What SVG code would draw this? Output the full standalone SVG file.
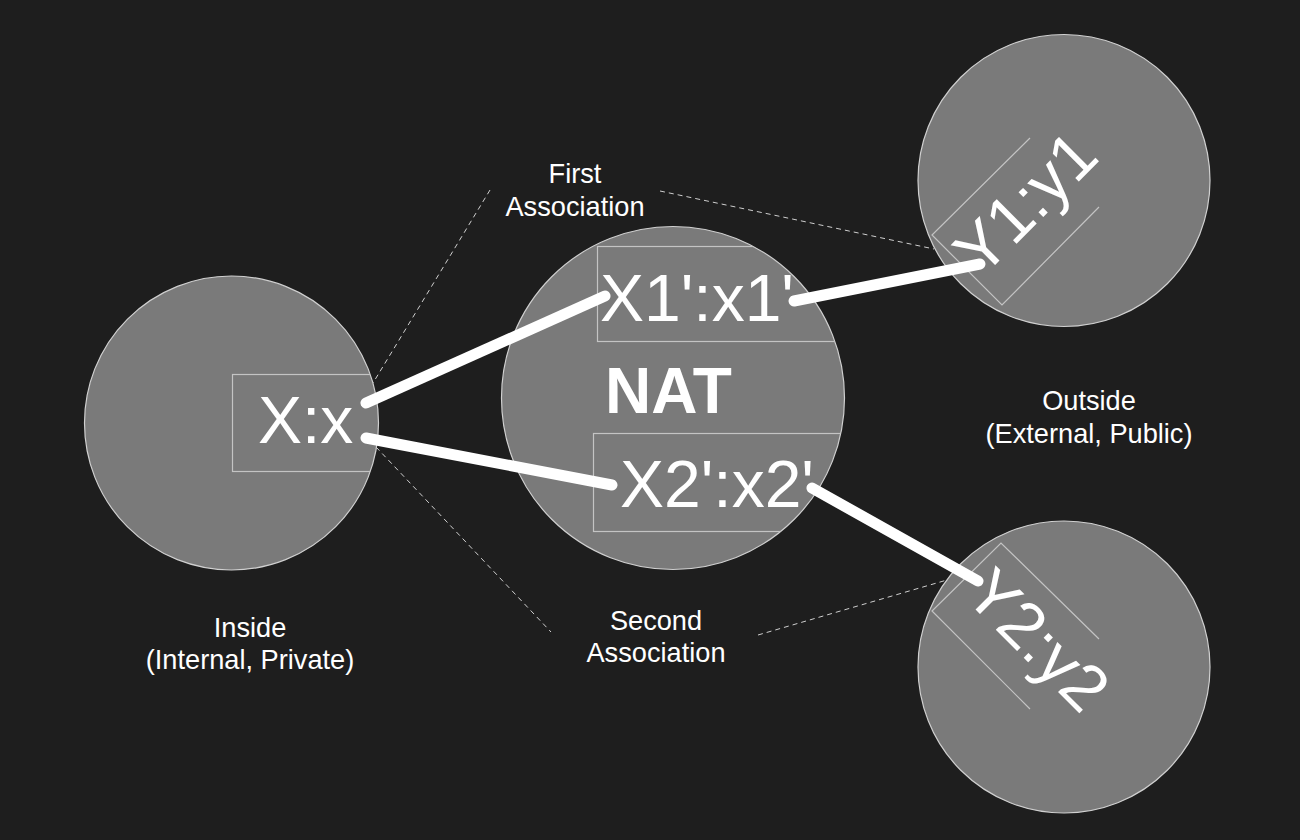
<svg xmlns="http://www.w3.org/2000/svg" width="1300" height="840" viewBox="0 0 1300 840">
<defs>
<style>
.circ{fill:#7a7a7a;stroke:#d0d0d0;stroke-width:1.2}
.box{fill:none;stroke:#c4c4c4;stroke-width:1.2}
.addr{font-family:"Liberation Sans",Arial,sans-serif;font-size:66px;fill:#ffffff}
.nat{font-family:"Liberation Sans",Arial,sans-serif;font-size:64px;font-weight:bold;fill:#ffffff}
.lbl{font-family:"Liberation Sans",Arial,sans-serif;font-size:27.2px;fill:#ffffff;text-anchor:middle}
.dash{stroke:#cfcfcf;stroke-width:1;stroke-dasharray:5 4;fill:none}
.conn{stroke:#ffffff;stroke-width:11;stroke-linecap:round;fill:none}
</style>
<clipPath id="clipIn"><circle cx="231.5" cy="423" r="147"/></clipPath>
<clipPath id="clipNat"><circle cx="673" cy="398" r="171.5"/></clipPath>
</defs>
<rect x="0" y="0" width="1300" height="840" fill="#1e1e1e"/>

<g id="guides">
<line class="dash" x1="490" y1="190" x2="373" y2="383"/>
<line class="dash" x1="660" y1="191" x2="934" y2="249"/>
<line class="dash" x1="376" y1="447" x2="551" y2="632"/>
<line class="dash" x1="758" y1="635" x2="947" y2="580"/>
</g>

<g id="inside">
<circle class="circ" cx="231.5" cy="423" r="147"/>
<rect class="box" x="232.5" y="374.5" width="220" height="97" clip-path="url(#clipIn)"/>
<text class="addr" x="258" y="443">X:x</text>
</g>

<g id="nat">
<circle class="circ" cx="673" cy="398" r="171.5"/>
<rect class="box" x="597.5" y="246.5" width="300" height="95" clip-path="url(#clipNat)"/>
<rect class="box" x="593.5" y="433.5" width="300" height="98" clip-path="url(#clipNat)"/>
<text class="addr" x="600" y="321">X1':x1'</text>
<text class="nat" x="605" y="413">NAT</text>
<text class="addr" x="620" y="507">X2':x2'</text>
</g>

<g id="y1">
<circle class="circ" cx="1064" cy="180.5" r="146"/>
<polyline class="box" points="1030,138 932,235 1002,305 1099,207"/>
<text class="addr" x="1041.5" y="218.7" text-anchor="middle" transform="rotate(-45 1041.5 218.7)">Y1:y1</text>
</g>

<g id="y2">
<circle class="circ" cx="1064" cy="667" r="146"/>
<polyline class="box" points="1099,639 1001,543 932,611 1030,709"/>
<text class="addr" x="1022" y="656" text-anchor="middle" transform="rotate(45 1022 656)">Y2:y2</text>
</g>

<g id="labels">
<text class="lbl" x="575" y="183">First</text>
<text class="lbl" x="575" y="215.5">Association</text>
<text class="lbl" x="656" y="629.5">Second</text>
<text class="lbl" x="656" y="662">Association</text>
<text class="lbl" x="250" y="636.5">Inside</text>
<text class="lbl" x="250" y="669">(Internal, Private)</text>
<text class="lbl" x="1089" y="410">Outside</text>
<text class="lbl" x="1089" y="443">(External, Public)</text>
</g>

<g id="connectors">
<line class="conn" x1="366" y1="403" x2="605" y2="296"/>
<line class="conn" x1="366" y1="438" x2="612" y2="485"/>
<line class="conn" x1="794" y1="301" x2="980" y2="264"/>
<line class="conn" x1="812" y1="488" x2="978" y2="581"/>
</g>
</svg>
